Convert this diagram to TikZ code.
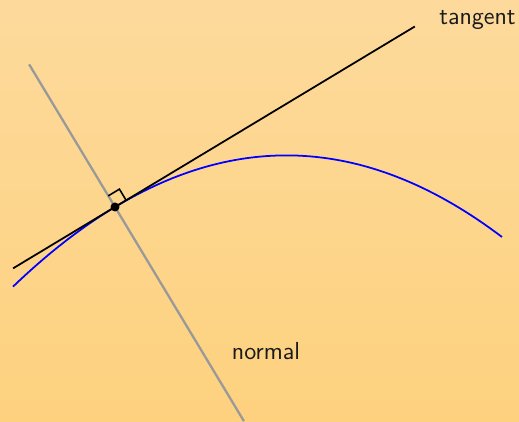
\documentclass[tikz,border=0pt]{standalone}
\usepackage{tikz}
\usepackage{xcolor}
\usetikzlibrary{calc}
\definecolor{ink}    {HTML}{1A1A1A}
\definecolor{normgray}{HTML}{999999}
\definecolor{bgtop}  {HTML}{FDDA9C}
\definecolor{bgbot}  {HTML}{FDD17E}
\tikzset{
  tanline/.style  ={draw=black, line width=1pt},
  normline/.style ={draw=normgray, line width=1.3pt},
  curveline/.style={draw=blue, line width=1pt},
  rightmark/.style={draw=black, line width=0.9pt},
  lbl/.style      ={font=\fontsize{14}{16}\selectfont\sffamily, text=ink, inner sep=0pt},
}

\begin{document}
\begin{tikzpicture}[x=1cm,y=1cm]
  \fill[top color=bgtop, bottom color=bgbot] (0,0) rectangle (10.38,8.44);
  \useasboundingbox (0,0) rectangle (10.38,8.44);

  \coordinate (P) at (2.30,4.30);
  \coordinate (t1) at ($(P)+(211.05:2.38)$);
  \coordinate (t2) at ($(P)+(31.05:7.00)$);
  \coordinate (n1) at ($(P)+(121.05:3.33)$);
  \coordinate (n2) at ($(P)+(301.05:5.00)$);

  \draw[normline] (n1) -- (n2);
  \draw[curveline, domain=-2.04:7.74, samples=80]
    plot ({2.30+\x}, {4.30+0.602*\x-0.0878*\x*\x});
  \draw[tanline] (t1) -- (t2);

  \draw[rightmark] ($(P)+(121.05:0.26)$) -- ++(31.05:0.26) -- ++(301.05:0.26);
  \fill[black] (P) circle (0.09);

  \node[lbl] (tang) at (9.55,8.04) {tangent};
  \node[lbl] (norm) at (5.32,1.42) {normal};
\end{tikzpicture}
\end{document}
